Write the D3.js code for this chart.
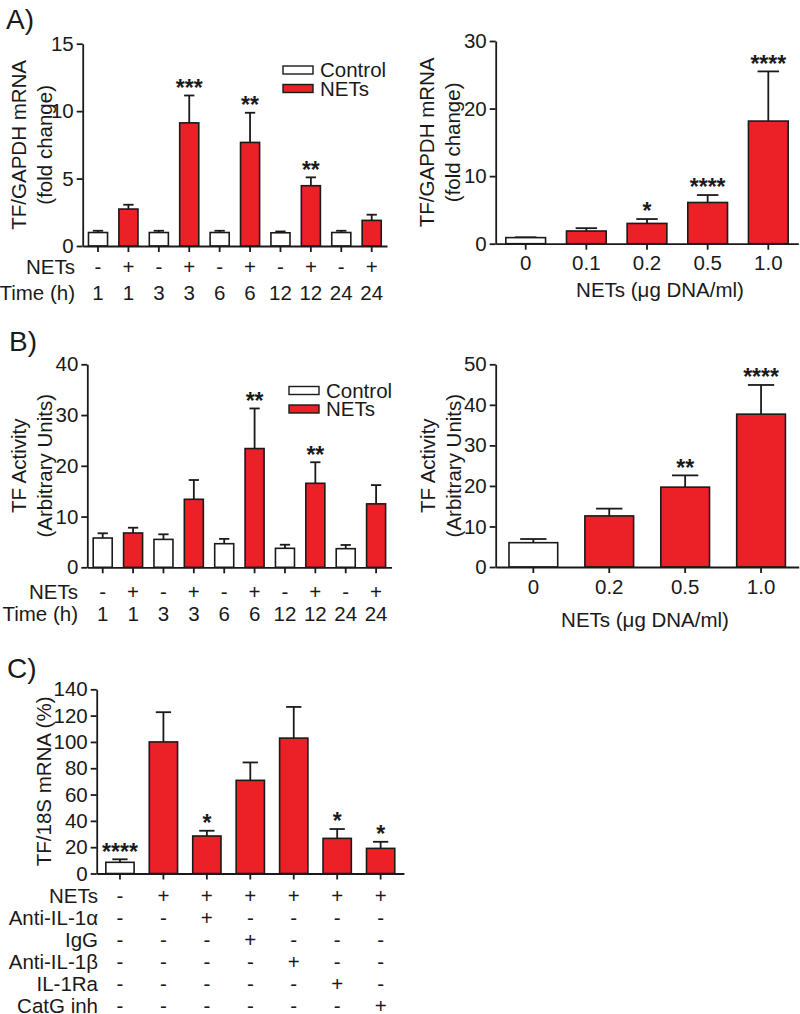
<!DOCTYPE html>
<html><head><meta charset="utf-8">
<script src="https://cdn.jsdelivr.net/npm/d3@7"></script>
<style>
body{margin:0;background:#fff}
svg{display:block}
text{font-family:"Liberation Sans",Arial,Helvetica,sans-serif;fill:#1a1a1a}
</style>
</head><body>
<svg id="chart" width="800" height="1014"></svg>
<script>
// ---------- DATA ----------
// Panel A (left): TF/GAPDH mRNA over time
const aTime = ["1","1","3","3","6","6","12","12","24","24"];
const aNets = ["-","+","-","+","-","+","-","+","-","+"];
const aMean = [1.0, 2.74, 1.0, 9.13, 1.0, 7.68, 0.98, 4.47, 1.0, 1.9];
const aErr  = [1.13, 3.06, 1.13, 11.16, 1.13, 9.88, 1.08, 5.09, 1.13, 2.32];
const aSig  = ["","","","***","","**","","**","",""];
const aTicks = [0,5,10,15];

// Panel A (right): dose response
const arDose = ["0","0.1","0.2","0.5","1.0"];
const arMean = [0.9, 1.88, 3.0, 6.1, 18.15];
const arErr  = [0.95, 2.3, 3.65, 7.2, 25.5];
const arSig  = ["","","*","****","****"];
const arTicks = [0,10,20,30];

// Panel B (left): TF activity over time
const bTime = ["1","1","3","3","6","6","12","12","24","24"];
const bNets = ["-","+","-","+","-","+","-","+","-","+"];
const bMean = [5.77, 6.76, 5.5, 13.4, 4.65, 23.4, 3.74, 16.55, 3.67, 12.5];
const bErr  = [6.7, 7.8, 6.5, 17.2, 5.6, 31.3, 4.45, 20.7, 4.4, 16.2];
const bSig  = ["","","","","","**","","**","",""];
const bTicks = [0,10,20,30,40];

// Panel B (right): dose response
const brDose = ["0","0.2","0.5","1.0"];
const brMean = [6.0, 12.6, 19.7, 37.7];
const brErr  = [6.9, 14.4, 22.6, 44.9];
const brSig  = ["","","**","****"];
const brTicks = [0,10,20,30,40,50];

// Panel C: inhibitors
const cMean = [8.5, 100, 28.5, 70.8, 102.9, 26.7, 19.1];
const cErr  = [10.8, 122.6, 32.5, 84.4, 126.6, 33.8, 24.1];
const cSig  = ["****","","*","","","*","*"];
const cTicks = [0,20,40,60,80,100,120,140];
const cRowLabels = ["NETs","Anti-IL-1\u03b1","IgG","Anti-IL-1\u03b2","IL-1Ra","CatG inh"];
const cRows = [
  ["-","+","+","+","+","+","+"],
  ["-","-","+","-","-","-","-"],
  ["-","-","-","+","-","-","-"],
  ["-","-","-","-","+","-","-"],
  ["-","-","-","-","-","+","-"],
  ["-","-","-","-","-","-","+"]
];

// ---------- STYLE ----------
const RED = "#EC2027";
const INK = "#1a1a1a";
const FS = 20.5;
const SFS = 23;

const svg = d3.select("#chart");

function panel(o){
  const n = o.mean.length;
  const g = svg.append("g");
  const x = d3.scaleBand().domain(d3.range(n)).range([o.x0, o.x1])
      .paddingInner(o.pi).paddingOuter(o.po);
  const y = d3.scaleLinear().domain([0, o.max]).range([o.yBot, o.yTop]);
  const bw = x.bandwidth();
  const cx = i => x(i) + bw/2;

  // error bars
  const eg = g.append("g").attr("stroke", INK).attr("stroke-width", 1.8);
  o.mean.forEach((m,i)=>{
    const e = o.err[i];
    if (e <= m) return;
    eg.append("line").attr("x1",cx(i)).attr("x2",cx(i)).attr("y1",y(m)).attr("y2",y(e));
    eg.append("line").attr("x1",cx(i)-bw*0.27).attr("x2",cx(i)+bw*0.27).attr("y1",y(e)).attr("y2",y(e));
  });
  // bars
  g.append("g").selectAll("rect").data(o.mean).join("rect")
    .attr("x",(d,i)=>x(i)).attr("width",bw)
    .attr("y",d=>y(d)).attr("height",d=>y(0)-y(d))
    .attr("fill",(d,i)=>o.fill[i]?RED:"#fff")
    .attr("stroke",INK).attr("stroke-width",1.6);
  // significance stars
  g.append("g").selectAll("text").data(o.sig).join("text")
    .attr("x",(d,i)=>cx(i)).attr("y",(d,i)=>y(o.err[i]) - 13 + 0.58*SFS)
    .attr("text-anchor","middle").attr("font-size",SFS).attr("font-weight","bold")
    .text(d=>d);

  // y axis
  const ya = g.append("g").attr("transform",`translate(${o.x0},0)`)
    .call(d3.axisLeft(y).tickValues(o.ticks).tickSize(6).tickPadding(3).tickSizeOuter(0));
  // x axis
  const xa = g.append("g").attr("transform",`translate(0,${o.yBot})`)
    .call(d3.axisBottom(x).tickSize(6).tickSizeOuter(0).tickFormat(o.xLabels ? (i=>o.xLabels[i]) : ""));
  [ya,xa].forEach(a=>{
    a.selectAll("path,line").attr("stroke",INK).attr("stroke-width",1.8);
    a.selectAll("text").attr("font-size",FS).attr("fill",INK)
      .style("font-family",'"Liberation Sans",Arial,sans-serif');
  });
  xa.selectAll("text").attr("dy","0.71em").attr("y",12);

  // y label (rotated)
  const yl = g.append("text").attr("text-anchor","middle").attr("font-size",FS)
    .attr("transform",`translate(${o.ylx},${(o.yTop+o.yBot)/2}) rotate(-90)`);
  o.ylabel.forEach((t,k)=>{
    yl.append("tspan").attr("x",0).attr("dy", k===0 ? "0.35em" : "1.28em").text(t);
  });
  return {x, y, cx};
}

function legend(xr, yc){
  const items = [["Control","#fff"],["NETs",RED]];
  items.forEach((it,k)=>{
    const yy = yc + k*18.5;
    svg.append("rect").attr("x",xr).attr("y",yy-4).attr("width",30).attr("height",8)
      .attr("fill",it[1]).attr("stroke",INK).attr("stroke-width",1.4);
    svg.append("text").attr("x",xr+37).attr("y",yy).attr("dy","0.35em")
      .attr("font-size",FS).text(it[0]);
  });
}

function rowText(labels, xs, yc, labelRight, rowName){
  svg.append("text").attr("x",labelRight).attr("y",yc).attr("dy","0.35em")
    .attr("text-anchor","end").attr("font-size",FS).text(rowName);
  labels.forEach((t,i)=>{
    svg.append("text").attr("x",xs(i)).attr("y",yc).attr("dy","0.35em")
      .attr("text-anchor","middle").attr("font-size",FS).text(t);
  });
}

function panelLabel(t,x,y){
  svg.append("text").attr("x",x).attr("y",y).attr("font-size",28).text(t);
}

// ---------- PANEL A ----------
panelLabel("A)",6,29);
const pA = panel({x0:82.7,x1:387,yTop:43.7,yBot:246,max:15,ticks:aTicks,
  mean:aMean,err:aErr,sig:aSig,fill:aNets.map(s=>s==="+"),pi:0.373,po:0.19,
  ylx:19,ylabel:["TF/GAPDH mRNA","(fold change)"]});
legend(283,70);
rowText(aNets,pA.cx,267,75,"NETs");
rowText(aTime,pA.cx,293,75,"Time (h)");

const pAr = panel({x0:495.7,x1:798.3,yTop:41,yBot:243.7,max:30,ticks:arTicks,
  mean:arMean,err:arErr,sig:arSig,fill:arDose.map(d=>d!=="0"),pi:0.345,po:0.167,
  xLabels:arDose,ylx:427,ylabel:["TF/GAPDH mRNA","(fold change)"]});
svg.append("text").attr("x",660).attr("y",290).attr("dy","0.35em").attr("text-anchor","middle")
  .attr("font-size",FS).text("NETs (\u03bcg DNA/ml)");

// ---------- PANEL B ----------
panelLabel("B)",9,351);
const pB = panel({x0:87.3,x1:391.5,yTop:364.3,yBot:567.3,max:40,ticks:bTicks,
  mean:bMean,err:bErr,sig:bSig,fill:bNets.map(s=>s==="+"),pi:0.374,po:0.194,
  ylx:19,ylabel:["TF Activity","(Arbitrary Units)"]});
legend(289,390.5);
rowText(bNets,pB.cx,592,78,"NETs");
rowText(bTime,pB.cx,614,78,"Time (h)");

const pBr = panel({x0:495.7,x1:798.7,yTop:364.3,yBot:567,max:50,ticks:brTicks,
  mean:brMean,err:brErr,sig:brSig,fill:brDose.map(d=>d!=="0"),pi:0.358,po:0.175,
  xLabels:brDose,ylx:428,ylabel:["TF Activity","(Arbitrary Units)"]});
svg.append("text").attr("x",645).attr("y",620).attr("dy","0.35em").attr("text-anchor","middle")
  .attr("font-size",FS).text("NETs (\u03bcg DNA/ml)");

// ---------- PANEL C ----------
panelLabel("C)",7,678);
const pC = panel({x0:96.7,x1:403.9,yTop:689.3,yBot:873.5,max:140,ticks:cTicks,
  mean:cMean,err:cErr,sig:cSig,fill:cRows[0].map(s=>s==="+"),pi:0.349,po:0.21,
  ylx:44,ylabel:["TF/18S mRNA (%)"]});
cRows.forEach((row,r)=>rowText(row,pC.cx,896+r*22,98,cRowLabels[r]));
</script>
</body></html>
